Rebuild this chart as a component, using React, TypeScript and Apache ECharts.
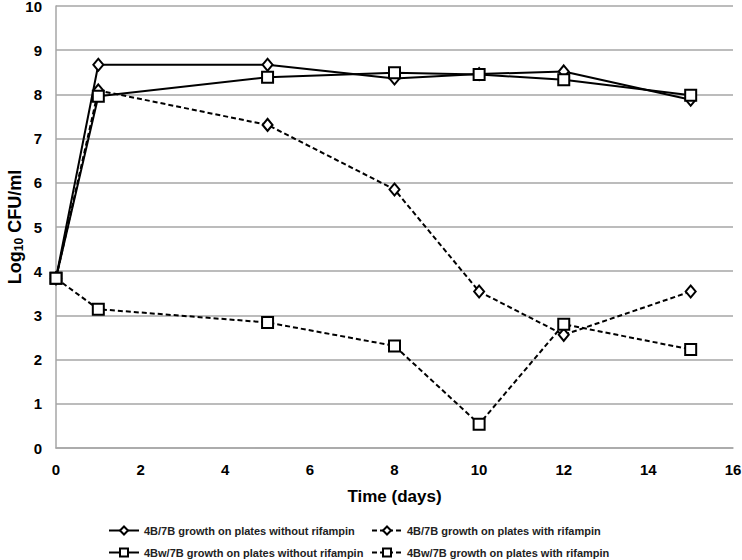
import React, { useEffect, useRef } from "react";
import * as echarts from "echarts";

const days = [0, 1, 5, 8, 10, 12, 15];
const noRif4B = [3.84, 8.67, 8.67, 8.36, 8.46, 8.52, 7.88];
const noRif4Bw = [3.84, 7.96, 8.39, 8.49, 8.45, 8.33, 7.98];
const rif4B = [3.84, 8.09, 7.31, 5.85, 3.54, 2.56, 3.54];
const rif4Bw = [3.84, 3.14, 2.84, 2.31, 0.54, 2.80, 2.23];
const seriesNames = [
  "4B/7B growth on plates without rifampin",
  "4B/7B growth on plates with rifampin",
  "4Bw/7B growth on plates without rifampin",
  "4Bw/7B growth on plates with rifampin",
];

const FONT = "Liberation Sans";

export default function App() {
  const ref = useRef<HTMLDivElement>(null);
  useEffect(() => {
    const chart = echarts.init(ref.current!, null, { renderer: "svg" });
    const pair = (ys: number[]) => days.map((d, i) => [d, ys[i]]);
    const mk = (name: string, ys: number[], symbol: string, dashed: boolean) => ({
      name,
      type: "line",
      data: pair(ys),
      symbol,
      symbolSize: symbol === "emptyDiamond" ? [10, 12] : 11,
      showAllSymbol: true,
      lineStyle: { color: "#000", width: 2, type: dashed ? [5, 3] : "solid" },
      itemStyle: { color: "#000", borderColor: "#000", borderWidth: 2 },
      emphasis: { disabled: true },
    });
    const legendItem = (name: string, left: number, top: number) => ({
      orient: "horizontal",
      left,
      top,
      itemWidth: 30,
      itemHeight: 10,
      padding: 0,
      textStyle: { fontFamily: FONT, fontSize: 11, fontWeight: "bold", color: "#222" },
      data: [name],
    });
    chart.setOption({
      animation: false,
      backgroundColor: "#fff",
      grid: { left: 56, right: 9, top: 6, bottom: 112, containLabel: false, outerBoundsMode: "none" },
      legend: [
        legendItem(seriesNames[0], 108, 525),
        legendItem(seriesNames[1], 371, 525),
        legendItem(seriesNames[2], 108, 547),
        legendItem(seriesNames[3], 371, 547),
      ],
      xAxis: {
        type: "value",
        min: 0,
        max: 16,
        interval: 2,
        name: "Time (days)",
        nameLocation: "middle",
        nameGap: 40,
        nameMoveOverlap: false,
        nameTextStyle: { fontFamily: FONT, fontSize: 17, fontWeight: "bold", color: "#000" },
        axisLine: { show: true, lineStyle: { color: "#a6a6a6", width: 1.5 } },
        axisTick: { show: false },
        splitLine: { show: false },
        axisLabel: { fontFamily: FONT, fontSize: 15, fontWeight: "bold", color: "#000", margin: 14 },
      },
      yAxis: {
        type: "value",
        min: 0,
        max: 10,
        interval: 1,
        name: "{a|Log}{b|10}{a| CFU/ml}",
        nameLocation: "middle",
        nameGap: 31,
        nameMoveOverlap: false,
        nameTextStyle: {
          rich: {
            a: { fontFamily: FONT, fontSize: 18, fontWeight: "bold", color: "#000" },
            b: { fontFamily: FONT, fontSize: 12, fontWeight: "bold", color: "#000", padding: [9, 0, 0, 0] },
          },
        },
        axisLine: { show: true, lineStyle: { color: "#a6a6a6", width: 1.5 } },
        axisTick: { show: false },
        splitLine: { show: true, lineStyle: { color: "#a6a6a6", width: 1.5 } },
        axisLabel: { fontFamily: FONT, fontSize: 15, fontWeight: "bold", color: "#000", margin: 14 },
      },
      series: [
        mk(seriesNames[0], noRif4B, "emptyDiamond", false),
        mk(seriesNames[1], rif4B, "emptyDiamond", true),
        mk(seriesNames[2], noRif4Bw, "emptyRect", false),
        mk(seriesNames[3], rif4Bw, "emptyRect", true),
      ],
    });
    return () => chart.dispose();
  }, []);
  return <div ref={ref} style={{ width: 742, height: 560, position: "absolute", left: 0, top: 0 }} />;
}
